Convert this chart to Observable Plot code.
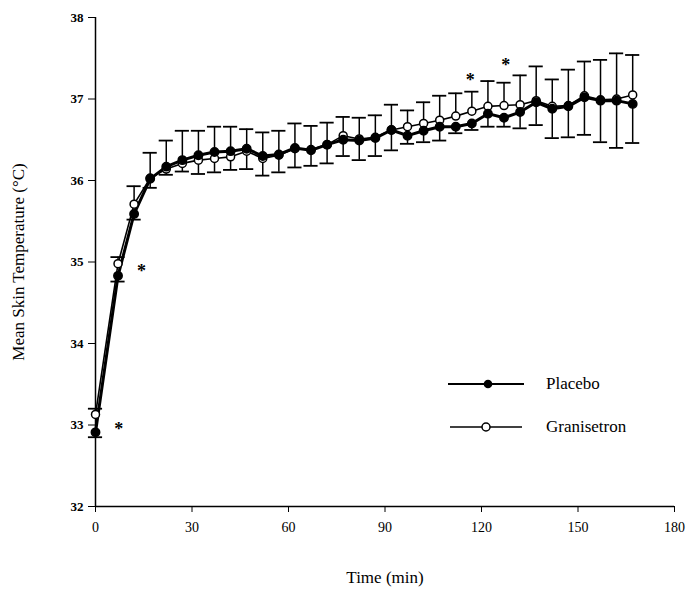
<!DOCTYPE html>
<html>
<head>
<meta charset="utf-8">
<script src="https://cdn.jsdelivr.net/npm/d3@7"></script>
<script src="https://cdn.jsdelivr.net/npm/@observablehq/plot@0.6"></script>
<style>
  body { margin: 0; background: #fff; }
  #wrap { position: relative; width: 686px; height: 595px; font-family: "Liberation Serif", serif; }
  #wrap svg g[aria-label="x-axis label"], #wrap svg g[aria-label="y-axis label"] { font-size: 17px; font-weight: normal; }
  #legend { position: absolute; left: 446px; top: 372px; font-size: 17px; color: #000; }
  .row { display: flex; align-items: center; height: 24px; margin-bottom: 19px; }
  .row span { margin-left: 20px; }
</style>
</head>
<body>
<div id="wrap"></div>
<script>
// Time points (min)
const times = [0, 7, 12, 17, 22, 27, 32, 37, 42, 47, 52, 57, 62, 67, 72, 77, 82, 87, 92, 97, 102, 107, 112, 117, 122, 127, 132, 137, 142, 147, 152, 157, 162, 167];
// Mean skin temperature (°C)
const placebo = [32.91, 34.83, 35.59, 36.02, 36.17, 36.25, 36.31, 36.35, 36.36, 36.39, 36.30, 36.32, 36.40, 36.37, 36.44, 36.50, 36.49, 36.52, 36.62, 36.55, 36.61, 36.66, 36.66, 36.70, 36.82, 36.77, 36.84, 36.96, 36.88, 36.91, 37.02, 36.98, 36.98, 36.94];
const granisetron = [33.13, 34.98, 35.71, 36.03, 36.14, 36.21, 36.25, 36.27, 36.29, 36.36, 36.27, 36.31, 36.39, 36.38, 36.44, 36.55, 36.51, 36.53, 36.62, 36.66, 36.70, 36.74, 36.79, 36.85, 36.91, 36.92, 36.93, 36.98, 36.91, 36.92, 37.04, 36.99, 37.00, 37.05];
// SD (granisetron drawn upward, placebo drawn downward)
const granisetronSD = [0.07, 0.08, 0.22, 0.31, 0.35, 0.40, 0.36, 0.39, 0.37, 0.27, 0.32, 0.30, 0.31, 0.29, 0.27, 0.23, 0.26, 0.27, 0.31, 0.20, 0.26, 0.30, 0.28, 0.24, 0.31, 0.28, 0.36, 0.42, 0.33, 0.44, 0.42, 0.49, 0.56, 0.49];
const placeboSD = [0.06, 0.07, 0.07, 0.11, 0.10, 0.14, 0.23, 0.25, 0.23, 0.25, 0.24, 0.22, 0.24, 0.19, 0.23, 0.20, 0.24, 0.22, 0.25, 0.10, 0.14, 0.17, 0.08, 0.08, 0.16, 0.11, 0.20, 0.28, 0.36, 0.38, 0.46, 0.51, 0.58, 0.48];
// Significance markers
const starTimes = [7.2, 14.3, 116.5, 127.5];
const starValues = [33.0, 34.93, 37.28, 37.46];
const xTicks = [0, 30, 60, 90, 120, 150, 180];
const yTicks = [32, 33, 34, 35, 36, 37, 38];

const data = times.map((t, i) => ({t, P: placebo[i], G: granisetron[i], gsd: granisetronSD[i], psd: placeboSD[i]}));
const stars = starTimes.map((t, i) => ({t, v: starValues[i]}));
const capHalf = 2.2;

const chart = Plot.plot({
  width: 686,
  height: 595,
  marginLeft: 95,
  marginRight: 12,
  marginTop: 17,
  marginBottom: 89,
  style: {fontFamily: "Liberation Serif, serif", fontSize: "14px", background: "#fff", color: "#000"},
  x: {domain: [0, 180]},
  y: {domain: [32, 38]},
  marks: [
    Plot.axisX({ticks: xTicks, tickSize: 6, tickPadding: 10, tickFormat: d3.format("d"), label: "Time (min)", labelAnchor: "center", labelArrow: "none", labelOffset: 76, fontSize: 14}),
    Plot.axisY({ticks: yTicks, tickSize: 7, tickPadding: 5, tickFormat: d3.format("d"), label: "Mean Skin Temperature (°C)", labelAnchor: "center", labelArrow: "none", labelOffset: 84, fontSize: 13, fontWeight: "bold"}),
    Plot.ruleX([0], {stroke: "#000", strokeWidth: 1.5}),
    Plot.ruleY([32], {stroke: "#000", strokeWidth: 1.5}),
    // error bars
    Plot.ruleX(data, {x: "t", y1: "G", y2: d => d.G + d.gsd, stroke: "#000", strokeWidth: 1.5}),
    Plot.ruleY(data, {y: d => d.G + d.gsd, x1: d => d.t - capHalf, x2: d => d.t + capHalf, stroke: "#000", strokeWidth: 1.8}),
    Plot.ruleX(data, {x: "t", y1: "P", y2: d => d.P - d.psd, stroke: "#000", strokeWidth: 1.5}),
    Plot.ruleY(data, {y: d => d.P - d.psd, x1: d => d.t - capHalf, x2: d => d.t + capHalf, stroke: "#000", strokeWidth: 1.8}),
    // lines
    Plot.line(data, {x: "t", y: "G", stroke: "#000", strokeWidth: 1.6}),
    Plot.line(data, {x: "t", y: "P", stroke: "#000", strokeWidth: 3}),
    Plot.dot(data, {x: "t", y: "G", r: 4, fill: "#fff", stroke: "#000", strokeWidth: 1.5}),
    Plot.dot(data, {x: "t", y: "P", r: 4.2, fill: "#000", stroke: "#000"}),
    Plot.text(stars, {x: "t", y: "v", text: () => "*", fontSize: 18, fontWeight: "bold", dy: 4})
  ]
});

const wrap = document.getElementById("wrap");
wrap.appendChild(chart);

const legend = document.createElement("div");
legend.id = "legend";
legend.innerHTML = `
  <div class="row"><svg width="80" height="24"><line x1="2" y1="12" x2="78" y2="12" stroke="#000" stroke-width="2"/><circle cx="42" cy="12" r="4.3" fill="#000"/></svg><span>Placebo</span></div>
  <div class="row"><svg width="80" height="24"><line x1="4" y1="12" x2="76" y2="12" stroke="#000" stroke-width="1.3"/><circle cx="40" cy="12" r="4" fill="#fff" stroke="#000" stroke-width="1.5"/></svg><span>Granisetron</span></div>`;
wrap.appendChild(legend);
</script>
</body>
</html>
